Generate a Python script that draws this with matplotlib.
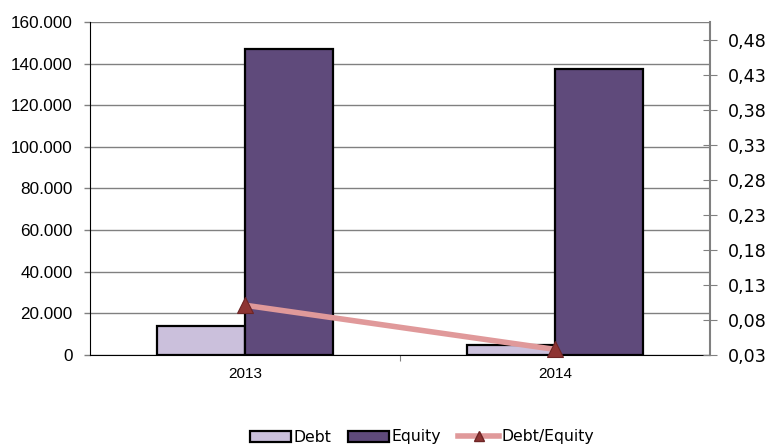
import matplotlib
matplotlib.use("Agg")
import matplotlib.pyplot as plt
from matplotlib.ticker import FuncFormatter, FixedLocator
from matplotlib.lines import Line2D
from matplotlib.patches import Patch
import numpy as np

categories = ["2013", "2014"]
debt = [14000, 4800]
equity = [147000, 137500]
ratio = [0.101, 0.038]

left_ticks = [0, 20000, 40000, 60000, 80000, 100000, 120000, 140000, 160000]
right_ticks = [0.03, 0.08, 0.13, 0.18, 0.23, 0.28, 0.33, 0.38, 0.43, 0.48]

debt_color = "#CBC0DC"
equity_color = "#5F4A7B"
line_color = "#E0999A"
marker_color = "#8E3433"

fig = plt.figure(figsize=(7.71, 4.45), dpi=100)
ax = fig.add_axes([90/771, 1-355/445, 620/771, 333/445])
x = np.arange(len(categories)) + 0.5
w = 0.284
ax.bar(x - w/2, debt, w, color=debt_color, edgecolor="black", linewidth=1.6, zorder=3, label="Debt")
ax.bar(x + w/2, equity, w, color=equity_color, edgecolor="black", linewidth=1.6, zorder=3, label="Equity")
ax.set_xlim(0, 2)
ax.set_ylim(0, 160000)
ax.yaxis.set_major_locator(FixedLocator(left_ticks))
ax.yaxis.set_major_formatter(FuncFormatter(lambda v, p: "0" if v == 0 else f"{int(v):,}".replace(",", ".")))
ax.grid(axis="y", color="#808080", linewidth=1, zorder=0)
for s in ["top", "right"]:
    ax.spines[s].set_visible(False)
ax.spines["left"].set_color("black")
ax.spines["bottom"].set_color("black")
ax.tick_params(axis="y", direction="out", length=4, width=1, color="#808080", labelsize=12.3, pad=8.5)
for t in ax.get_yticklabels():
    t.set_fontfamily("Liberation Sans")
ax.set_xticks([1])
ax.set_xticks(x, minor=True)
ax.set_xticklabels([""])
ax.set_xticklabels(categories, minor=True)
ax.tick_params(axis="x", which="major", direction="out", length=4, color="#808080")
ax.tick_params(axis="x", which="minor", length=0, labelsize=11, pad=9)
for t in ax.get_xticklabels(minor=True):
    t.set_fontfamily("Liberation Sans")

ax2 = ax.twinx()
ax2.set_ylim(0.03, 0.505)
ax2.yaxis.set_major_locator(FixedLocator(right_ticks))
ax2.yaxis.set_major_formatter(FuncFormatter(lambda v, p: f"{v:.2f}".replace(".", ",")))
ax2.plot(x, ratio, color=line_color, linewidth=4, marker="^", markersize=12,
         markerfacecolor=marker_color, markeredgecolor="#6E2525", markeredgewidth=0.8, zorder=5, clip_on=False)
for s in ["top", "left", "bottom"]:
    ax2.spines[s].set_visible(False)
ax2.spines["right"].set_color("#808080")
ax2.spines["right"].set_linewidth(1.5)
ax2.tick_params(axis="y", direction="inout", length=10, color="#808080", labelsize=12.6, pad=8)
for t in ax2.get_yticklabels():
    t.set_fontfamily("DejaVu Sans")

handles = [
    Patch(facecolor=debt_color, edgecolor="black", linewidth=1.6, label="Debt"),
    Patch(facecolor=equity_color, edgecolor="black", linewidth=1.6, label="Equity"),
    Line2D([0], [0], color=line_color, linewidth=4, marker="^", markersize=7,
           markerfacecolor=marker_color, markeredgecolor="#6E2525", label="Debt/Equity"),
]
fig.legend(handles=handles, loc="center", bbox_to_anchor=(422/771, 1-437/445), ncol=3, frameon=False,
           prop={"family": "DejaVu Sans", "size": 11.3}, handlelength=2.6, handleheight=0.7,
           handletextpad=0.15, columnspacing=1.1)

fig.savefig("out.png", dpi=100)
